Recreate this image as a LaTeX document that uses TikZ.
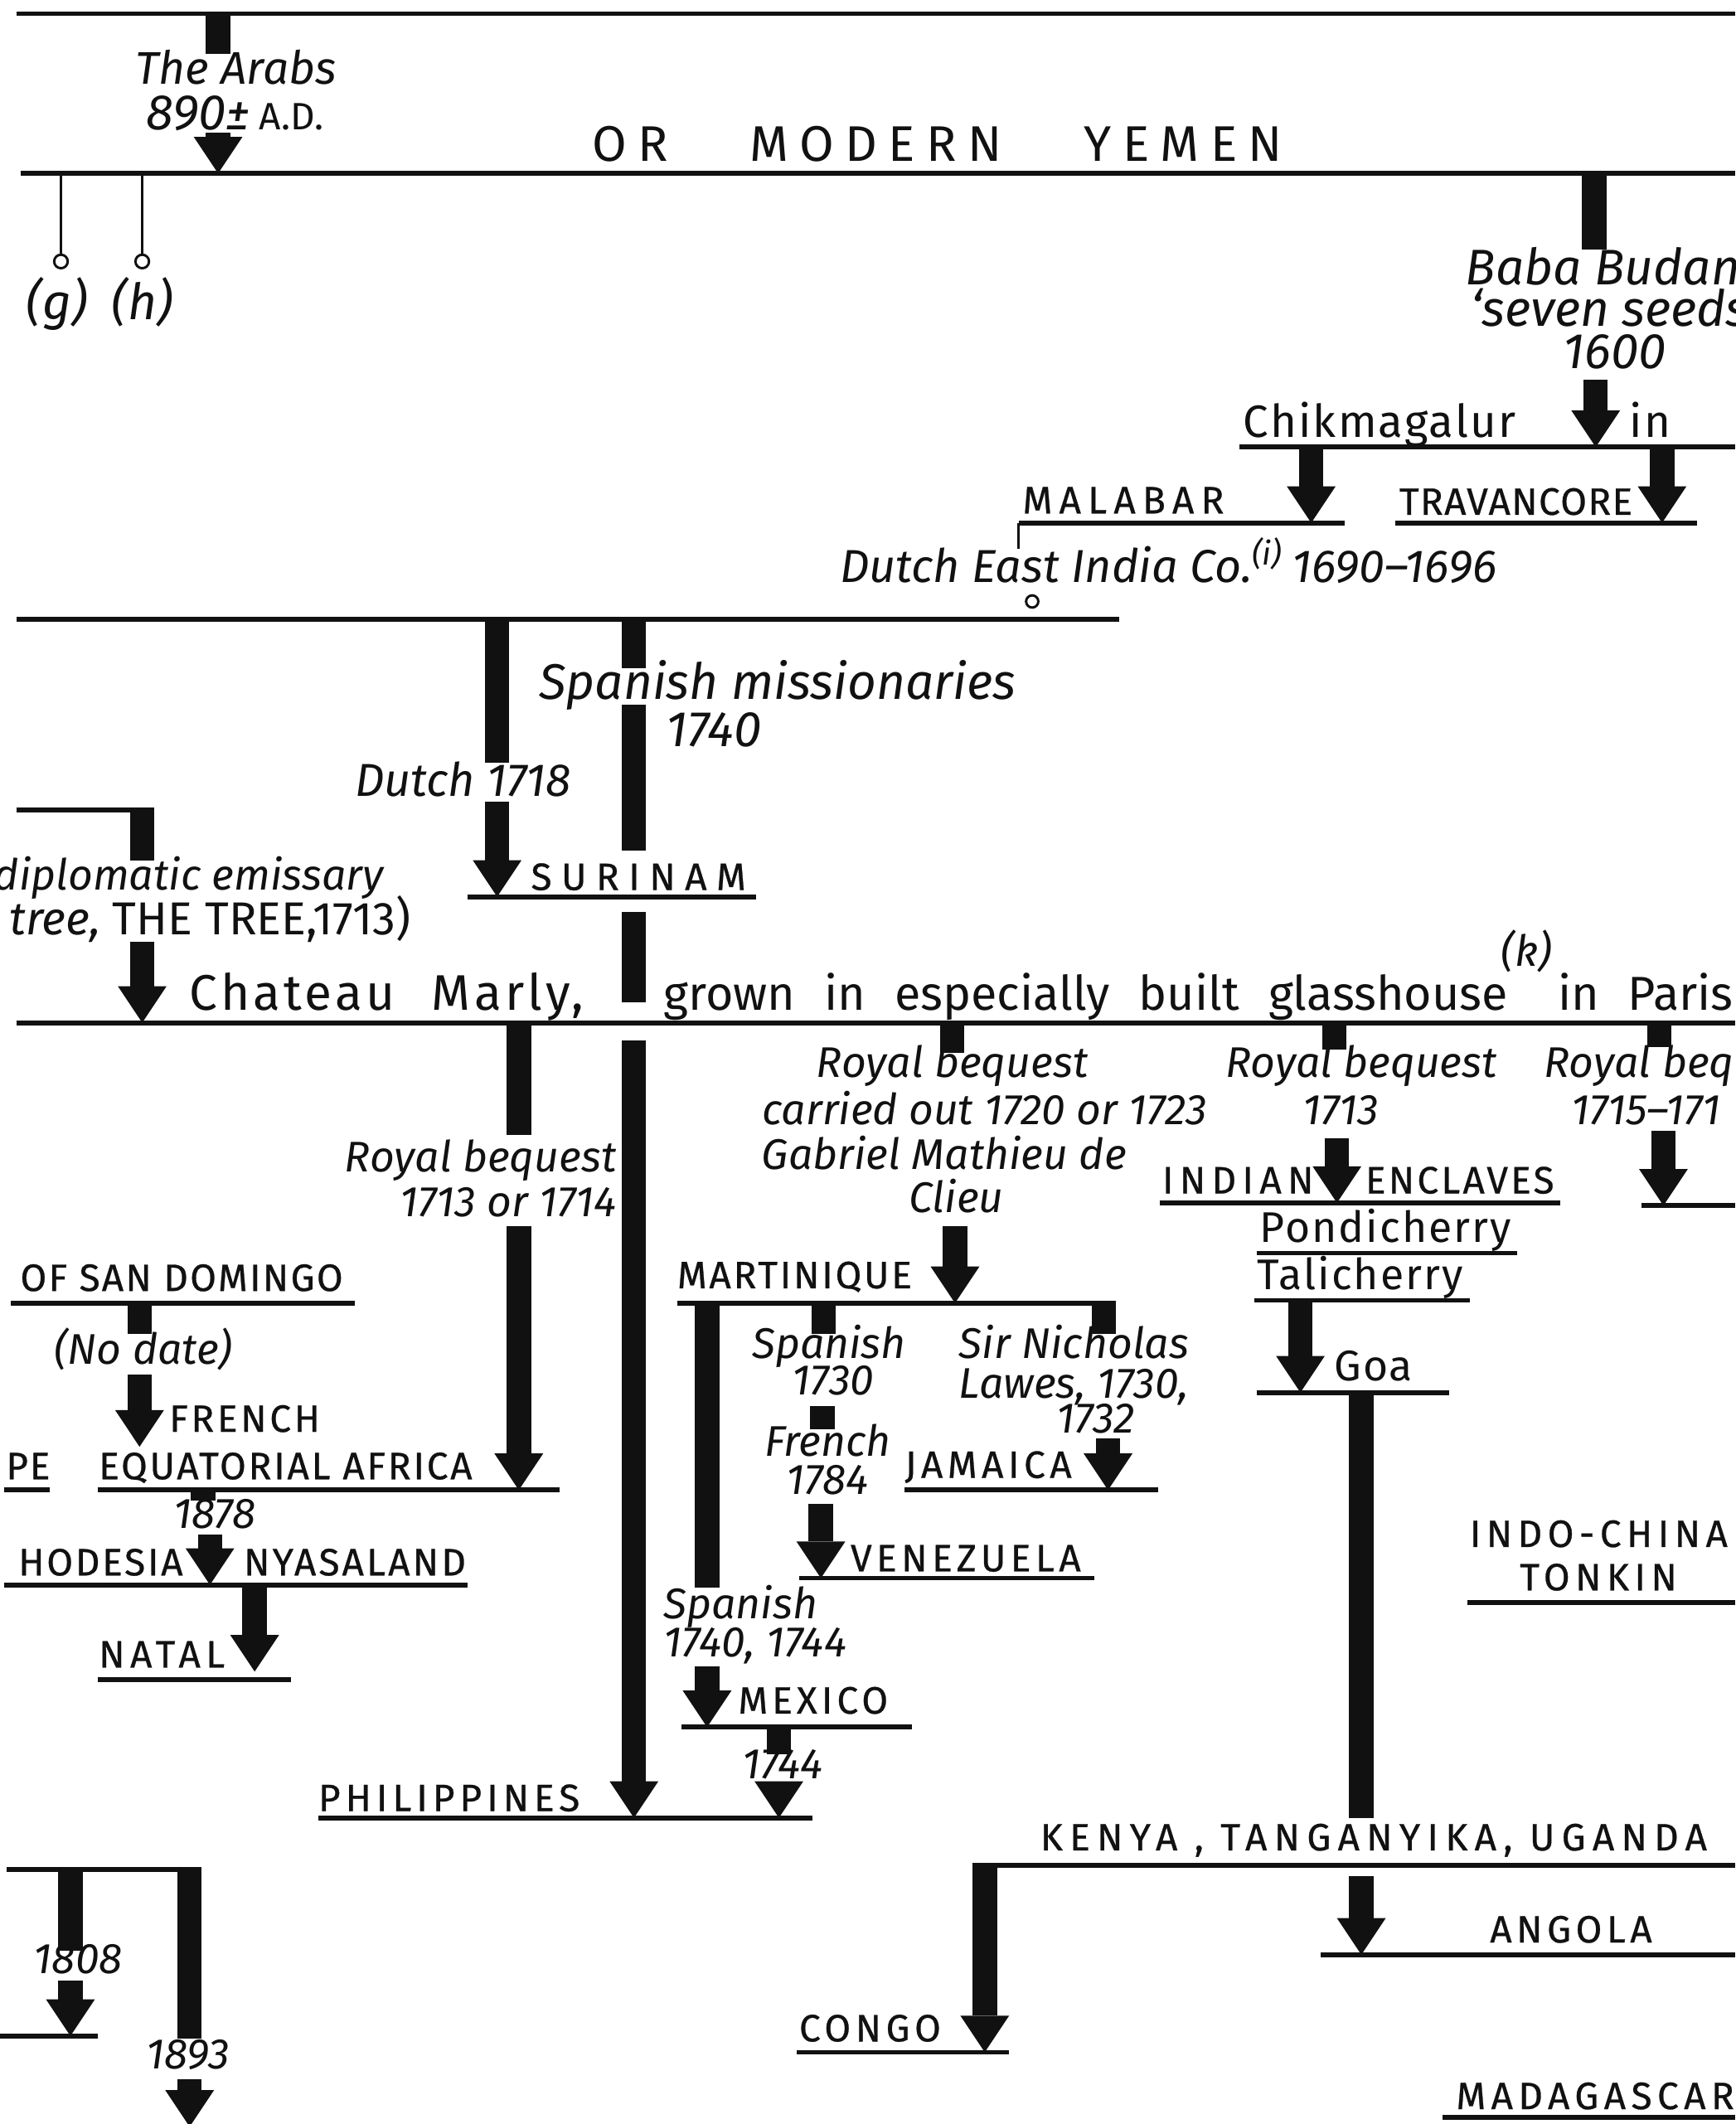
\documentclass[tikz,border=0pt]{standalone}
\usepackage{fontspec}
\setmainfont{Fira Sans}
\newfontfamily\titlefont[LetterSpace=22,WordSpace=3.4]{Fira Sans}
\newfontfamily\bigfont[LetterSpace=7,WordSpace=2.2]{Fira Sans}
\newfontfamily\phrasefont[WordSpace=2.3]{Fira Sans}
\newfontfamily\placefont[FakeBold=0.6]{Fira Sans}
\usepackage{xcolor}
\definecolor{cInk}{HTML}{111111}
\usepackage{tikz}
\usetikzlibrary{arrows.meta}
\tikzset{
  rule-line/.style={draw=cInk,line width=0.035cm},
  pin-line/.style={draw=cInk,line width=0.018cm},
  pin-end/.style={draw=cInk,line width=0.018cm,fill=white},
  bar-stem/.style={draw=cInk,line width=0.18cm},
  bar-arrow/.style={draw=cInk,line width=0.18cm,
    -{Triangle[length=0.27cm,width=0.36cm,line width=0pt]}},
  txt/.style={inner sep=0pt,outer sep=0pt,text=cInk},
  % handwritten notes (italic)
  txt-note/.style={txt,font=\fontsize{9}{10}\selectfont\itshape},
  txt-note-mid/.style={txt,font=\fontsize{9.7}{11}\selectfont\itshape},
  txt-note-big/.style={txt,font=\fontsize{10.5}{12}\selectfont\itshape},
  % place names in capitals, #1 = tracking
  txt-place/.style={txt,font=\placefont\fontsize{8}{9}\selectfont\addfontfeatures{LetterSpace=#1}},
  txt-place/.default=3,
  txt-town/.style={txt,font=\fontsize{9}{11}\selectfont\addfontfeatures{LetterSpace=4}},
  txt-big/.style={txt,font=\bigfont\fontsize{10.5}{12}\selectfont},
  txt-phrase/.style={txt,font=\phrasefont\fontsize{10}{12}\selectfont},
  txt-title/.style={txt,font=\titlefont\fontsize{10.5}{12}\selectfont},
}

\begin{document}
\begin{tikzpicture}[x=0.01cm,y=-0.01cm]
  \useasboundingbox (0,0) rectangle (1281,1568);
  \fill[white] (0,0) rectangle (1281,1568);
  \clip (0,0) rectangle (1281,1568);

  % the Arabs and Yemen
  \draw[rule-line] (12,10) -- (1281,10);
  \draw[bar-stem] (161,10) -- (161,40);
  \node[txt-note-big,anchor=base west,font=\fontsize{9.6}{11}\selectfont\itshape] (arabs) at (100,62) {The Arabs};
  \node[txt-note-big,anchor=base west] (arabs-date) at (108,96) {890±\,{\upshape\fontsize{8}{9}\selectfont A.D.}};
  \draw[bar-arrow] (161,98) -- (161,128);
  \draw[rule-line] (15,128) -- (1281,128);
  \node[txt-title,anchor=base west] (yemen) at (437,119) {OR MODERN YEMEN};
  \draw[pin-line] (45,128) -- (45,188);
  \draw[pin-end] (45,193) circle[radius=0.05cm];
  \node[txt-note-big,anchor=base] (pin-g) at (42,236) {(g)};
  \draw[pin-line] (105,128) -- (105,188);
  \draw[pin-end] (105,193) circle[radius=0.05cm];
  \node[txt-note-big,anchor=base] (pin-h) at (105,236) {(h)};

  % Baba Budan to India
  \draw[bar-stem] (1177,128) -- (1177,184);
  \node[txt-note-big,anchor=base west] (baba) at (1082,210) {Baba Budan};
  \node[txt-note-big,anchor=base west] (seeds) at (1086,241) {‘seven seeds};
  \node[txt-note-big,anchor=base west] (baba-date) at (1154,272) {1600};
  \draw[bar-arrow] (1178,280) -- (1178,330);
  \node[txt-town,anchor=base west,font=\fontsize{9.5}{11}\selectfont\addfontfeatures{LetterSpace=4}] (chik) at (918,323) {Chikmagalur};
  \node[txt-town,anchor=base west,font=\fontsize{9.5}{11}\selectfont\addfontfeatures{LetterSpace=4}] (chik-in) at (1203,323) {in};
  \draw[rule-line] (915,330) -- (1281,330);
  \draw[bar-arrow] (968,330) -- (968,386);
  \draw[bar-arrow] (1227,330) -- (1227,386);
  \node[txt-place=18,anchor=base west] (malabar) at (755,379) {MALABAR};
  \node[txt-place=3,anchor=base west] (travancore) at (1033,380) {TRAVANCORE};
  \draw[rule-line] (752,386) -- (993,386);
  \draw[rule-line] (1030,386) -- (1253,386);
  \draw[pin-line] (752,386) -- (752,405);
  \node[txt-note-mid,anchor=base west] (dutch-co) at (620,430) {Dutch East India Co.\textsuperscript{(i)}\,1690–1696};
  \draw[pin-end] (762,444) circle[radius=0.045cm];
  \draw[rule-line] (12,457) -- (826,457);

  % Surinam
  \draw[bar-stem] (367,457) -- (367,563);
  \node[txt-note-mid,anchor=base west] (dutch) at (262,588) {Dutch 1718};
  \draw[bar-arrow] (367,592) -- (367,662);
  \draw[bar-stem] (468,457) -- (468,493);
  \node[txt-note-big,anchor=base west] (spanish-miss) at (398,516) {Spanish missionaries};
  \node[txt-note-big,anchor=base west] (spanish-date) at (492,551) {1740};
  \draw[bar-stem] (468,520) -- (468,628);
  \node[txt-place=25,anchor=base west] (surinam) at (392,657) {SURINAM};
  \draw[rule-line] (345,662) -- (558,662);
  \draw[bar-stem] (468,673) -- (468,740);

  % the tree at Chateau Marly
  \draw[rule-line] (12,598) -- (114,598);
  \draw[bar-stem] (105,598) -- (105,635);
  \node[txt-note,anchor=base east] (emissary) at (283,657) {diplomatic emissary};
  \node[txt-note,anchor=base east,font=\fontsize{9.7}{11}\selectfont\itshape] (tree) at (303,690) {tree, {\upshape THE TREE,1713)}};
  \draw[bar-arrow] (105,695) -- (105,755);
  \node[txt-big,anchor=base west] (marly) at (140,746) {Chateau Marly,};
  \node[txt-phrase,anchor=base west] (glasshouse) at (490,746) {grown in especially built glasshouse};
  \node[txt-note,anchor=base] (note-k) at (1127,713) {(k)};
  \node[txt-phrase,anchor=base west] (paris) at (1150,746) {in Paris};
  \draw[rule-line] (12,755) -- (1281,755);

  % royal bequests
  \draw[bar-stem] (383,755) -- (383,838);
  \node[txt-note,anchor=base east] (bequest-a) at (455,865) {Royal bequest};
  \node[txt-note,anchor=base east] (bequest-a-date) at (455,898) {1713 or 1714};
  \draw[bar-arrow] (383,905) -- (383,1100);
  \draw[bar-arrow] (468,768) -- (468,1342);
  \draw[bar-stem] (703,755) -- (703,777);
  \node[txt-note,anchor=base] (bequest-b) at (703,795) {Royal bequest};
  \node[txt-note,anchor=base] (bequest-b-date) at (727,830) {carried out 1720 or 1723};
  \node[txt-note,anchor=base] (clieu-a) at (697,863) {Gabriel Mathieu de};
  \node[txt-note,anchor=base] (clieu-b) at (706,895) {Clieu};
  \draw[bar-arrow] (705,905) -- (705,962);
  \draw[bar-stem] (985,755) -- (985,775);
  \node[txt-note,anchor=base] (bequest-c) at (1005,795) {Royal bequest};
  \node[txt-note,anchor=base] (bequest-c-date) at (990,830) {1713};
  \draw[bar-arrow] (987,840) -- (987,888);
  \draw[bar-stem] (1225,755) -- (1225,773);
  \node[txt-note,anchor=base west] (bequest-d) at (1140,795) {Royal bequest};
  \node[txt-note,anchor=base west] (bequest-d-date) at (1160,830) {1715–171};
  \draw[bar-arrow] (1228,835) -- (1228,890);
  \draw[rule-line] (1212,890) -- (1281,890);

  % Indian enclaves
  \node[txt-place=16,anchor=base west] (indian) at (858,881) {INDIAN};
  \node[txt-place=7,anchor=base west] (enclaves) at (1008,881) {ENCLAVES};
  \draw[rule-line] (856,888) -- (1152,888);
  \node[txt-town,anchor=base west] (pondicherry) at (930,917) {Pondicherry};
  \draw[rule-line] (928,925) -- (1120,925);
  \node[txt-town,anchor=base west] (talicherry) at (928,952) {Talicherry};
  \draw[rule-line] (926,960) -- (1085,960);
  \draw[bar-arrow] (960,960) -- (960,1028);
  \node[txt-town,anchor=base west] (goa) at (985,1019) {Goa};
  \draw[rule-line] (928,1028) -- (1070,1028);
  \draw[bar-stem] (1005,1028) -- (1005,1342);
  \node[txt-place=14,anchor=base west] (indochina) at (1085,1142) {INDO-CHINA};
  \node[txt-place=14,anchor=base west] (tonkin) at (1122,1174) {TONKIN};
  \draw[rule-line] (1083,1183) -- (1281,1183);

  % East Africa
  \node[txt-place=18,anchor=base west] (kenya) at (768,1366) {KENYA , TANGANYIKA, UGANDA};
  \draw[rule-line] (718,1377) -- (1281,1377);
  \draw[bar-arrow] (1005,1385) -- (1005,1443);
  \node[txt-place=12,anchor=base west] (angola) at (1100,1434) {ANGOLA};
  \draw[rule-line] (975,1443) -- (1281,1443);
  \draw[bar-arrow] (727,1376) -- (727,1515);
  \node[txt-place=12,anchor=base west] (congo) at (590,1507) {CONGO};
  \draw[rule-line] (588,1515) -- (745,1515);
  \node[txt-place=14,anchor=base west] (madagascar) at (1075,1557) {MADAGASCAR};
  \draw[rule-line] (1065,1563) -- (1281,1563);

  % San Domingo
  \node[txt-place=5,anchor=base west] (domingo) at (15,953) {OF SAN DOMINGO};
  \draw[rule-line] (8,962) -- (262,962);
  \draw[bar-stem] (103,962) -- (103,985);
  \node[txt-note,anchor=base west] (nodate) at (40,1007) {(No date)};
  \draw[bar-arrow] (103,1015) -- (103,1068);
  \node[txt-place=8,anchor=base west] (french) at (125,1057) {FRENCH};
  \node[txt-place=6,anchor=base west] (equatorial) at (73,1092) {EQUATORIAL AFRICA};
  \draw[rule-line] (72,1100) -- (413,1100);
  \node[txt-place=4,anchor=base east] (pe) at (37,1092) {PE};
  \draw[rule-line] (3,1100) -- (37,1100);
  \draw[bar-stem] (150,1100) -- (150,1108);
  \node[txt-note,anchor=base west] (date-1878) at (128,1128) {1878};
  \draw[bar-arrow] (155,1133) -- (155,1170);
  \node[txt-place=6,anchor=base east] (rhodesia) at (135,1163) {HODESIA};
  \node[txt-place=7,anchor=base west] (nyasaland) at (180,1163) {NYASALAND};
  \draw[rule-line] (3,1170) -- (345,1170);
  \draw[bar-arrow] (188,1170) -- (188,1234);
  \node[txt-place=14,anchor=base west] (natal) at (73,1231) {NATAL};
  \draw[rule-line] (72,1240) -- (215,1240);

  % Martinique
  \node[txt-place=6,anchor=base west] (martinique) at (500,951) {MARTINIQUE};
  \draw[rule-line] (500,962) -- (824,962);
  \draw[bar-stem] (522,962) -- (522,1172);
  \draw[bar-stem] (608,962) -- (608,985);
  \node[txt-note,anchor=base] (spanish-a) at (612,1003) {Spanish};
  \node[txt-note,anchor=base] (spanish-a-date) at (615,1030) {1730};
  \draw[bar-stem] (607,1038) -- (607,1055);
  \node[txt-note,anchor=base] (french-a) at (611,1075) {French};
  \node[txt-note,anchor=base] (french-a-date) at (611,1103) {1784};
  \draw[bar-arrow] (606,1110) -- (606,1165);
  \node[txt-place=12,anchor=base west] (venezuela) at (628,1160) {VENEZUELA};
  \draw[rule-line] (590,1165) -- (808,1165);
  \draw[bar-stem] (815,962) -- (815,985);
  \node[txt-note,anchor=base west] (lawes-a) at (708,1003) {Sir Nicholas};
  \node[txt-note,anchor=base west] (lawes-b) at (708,1032) {Lawes, 1730,};
  \node[txt-note,anchor=base west] (lawes-c) at (780,1058) {1732};
  \draw[bar-arrow] (818,1062) -- (818,1100);
  \node[txt-place=12,anchor=base west] (jamaica) at (668,1091) {JAMAICA};
  \draw[rule-line] (668,1100) -- (855,1100);
  \node[txt-note,anchor=base west] (spanish-b) at (490,1195) {Spanish};
  \node[txt-note,anchor=base west] (spanish-b-date) at (490,1223) {1740, 1744};
  \draw[bar-arrow] (522,1230) -- (522,1275);
  \node[txt-place=11,anchor=base west] (mexico) at (545,1265) {MEXICO};
  \draw[rule-line] (503,1275) -- (673,1275);
  \draw[bar-stem] (575,1275) -- (575,1295);
  \node[txt-note,anchor=base west] (mexico-date) at (548,1313) {1744};
  \draw[bar-arrow] (575,1318) -- (575,1342);
  \node[txt-place=13,anchor=base west] (philippines) at (235,1337) {PHILIPPINES};
  \draw[rule-line] (235,1342) -- (600,1342);

  % lower left
  \draw[rule-line] (5,1380) -- (149,1380);
  \draw[bar-stem] (52,1380) -- (52,1440);
  \node[txt-note,anchor=base west] (date-1808) at (25,1457) {1808};
  \draw[bar-arrow] (52,1462) -- (52,1503);
  \draw[rule-line] (0,1503) -- (72,1503);
  \draw[bar-stem] (140,1380) -- (140,1505);
  \node[txt-note,anchor=base west] (date-1893) at (108,1527) {1893};
  \draw[bar-arrow] (140,1535) -- (140,1570);
\end{tikzpicture}
\end{document}
